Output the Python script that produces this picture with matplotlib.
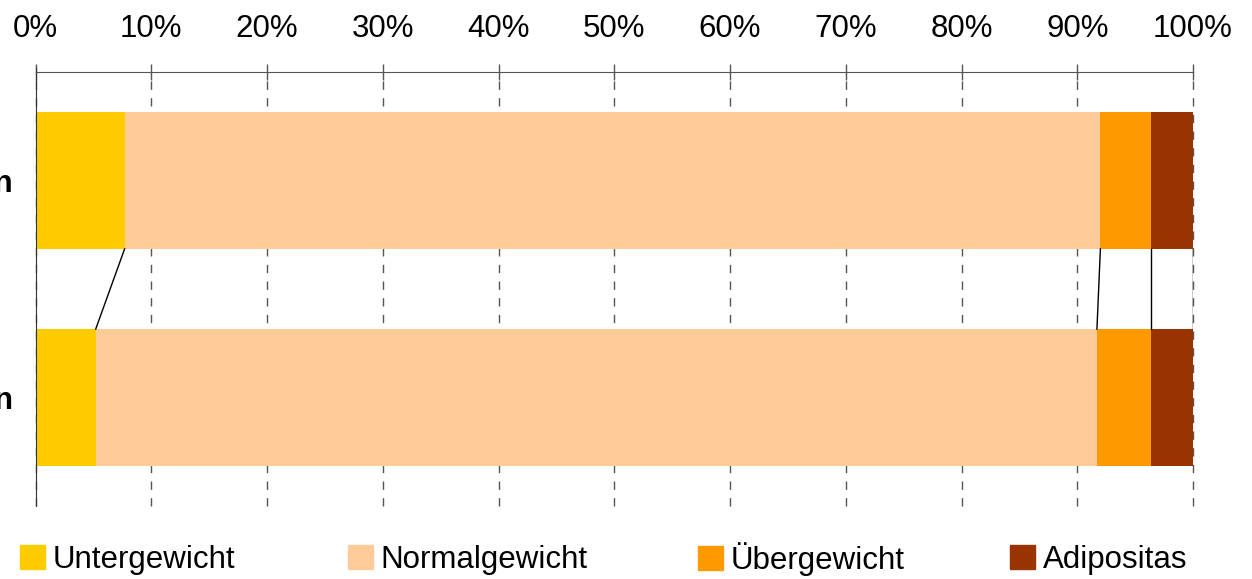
import numpy as np
import matplotlib
matplotlib.use("Agg")
import matplotlib.pyplot as plt
from matplotlib.patches import Patch

plt.rcParams['font.family'] = ['Liberation Sans', 'DejaVu Sans']

# data (percent), top bar first
groups = ["Mädchen", "Jungen"]
categories = ["Untergewicht", "Normalgewicht", "Übergewicht", "Adipositas"]
untergewicht = [7.7, 5.2]
normalgewicht = [84.3, 86.5]
uebergewicht = [4.4, 4.7]
adipositas = [3.6, 3.6]
colors = ["#FFCC00", "#FFCC99", "#FF9900", "#993300"]

series = [untergewicht, normalgewicht, uebergewicht, adipositas]

fig = plt.figure(figsize=(12.52, 5.79), dpi=100)
ax = fig.add_axes([35.5 / 1252, 1 - 506 / 579, (1193 - 35.5) / 1252, 434 / 579])

ypos = [1, 0]
h = 0.63
left = np.zeros(len(groups))
for vals, col in zip(series, colors):
    ax.barh(ypos, vals, left=left, height=h, color=col, edgecolor='none', zorder=2)
    left = left + np.array(vals)

# series lines between the two bars
cum = np.cumsum(np.array(series), axis=0)
for top_val, bot_val in zip(cum[:, 0], cum[:, 1]):
    ax.plot([top_val, bot_val], [1 - h / 2, 0 + h / 2], color='black', lw=1, zorder=3)

ax.set_xlim(0, 100)
ax.set_ylim(-0.5, 1.5)
ax.xaxis.tick_top()
ax.set_xticks(np.arange(0, 101, 10))
ax.set_xticklabels([f"{v}%" for v in range(0, 101, 10)])
ax.tick_params(axis='x', direction='inout', length=12, width=1, color='#555555',
               labelsize=22.5, pad=14)
ax.set_yticks(ypos)
ax.set_yticklabels(groups, fontsize=22.5, fontweight='bold')
ax.tick_params(axis='y', length=0, pad=16)
ax.grid(axis='x', color='#555555', linestyle=(0, (6, 6)), lw=1, zorder=1)
for gl in ax.get_xgridlines():
    gl.set_clip_on(False)

for s in ['right', 'bottom']:
    ax.spines[s].set_visible(False)
ax.spines['top'].set_color('#555555')
ax.spines['left'].set_color('#333333')
ax.spines['left'].set_bounds(-0.5, 1.52)
ax.spines['left'].set_clip_on(False)

# legend, one entry at a time like the original layout
leg_x = [20, 348, 698, 1010]
leg_dy = [0, 0, -1, 0]
for name, col, x, dy in zip(categories, colors, leg_x, leg_dy):
    fig.legend(handles=[Patch(color=col)], labels=[name], loc='center left',
               bbox_to_anchor=(x / 1252, 1 - (560 + dy) / 579), frameon=False,
               fontsize=22.5, handlelength=0.8, handleheight=0.8,
               handletextpad=0.25, borderpad=0, borderaxespad=0)

fig.savefig("out.png", dpi=100)
